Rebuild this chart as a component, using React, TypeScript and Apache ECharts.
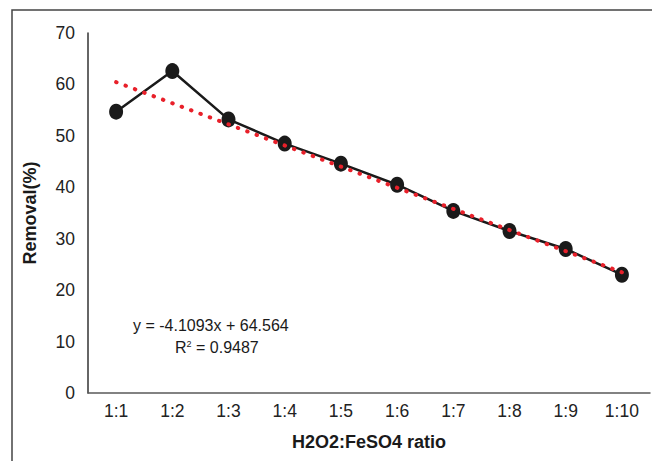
import React, { useEffect, useRef } from "react";
import * as echarts from "echarts";

const categories = ["1:1", "1:2", "1:3", "1:4", "1:5", "1:6", "1:7", "1:8", "1:9", "1:10"];
const removal = [54.7, 62.6, 53.2, 48.5, 44.6, 40.5, 35.4, 31.5, 28.0, 23.0];
const trend = [60.45, 56.35, 52.24, 48.13, 44.02, 39.91, 35.8, 31.69, 27.58, 23.47];
const yTicks = { min: 0, max: 70, interval: 10 };
const equationText = "y = -4.1093x + 64.564";
const r2Text = "0.9487";

const FONT = "'Liberation Sans', Arial, sans-serif";

export default function App() {
  const ref = useRef<HTMLDivElement>(null);
  useEffect(() => {
    if (!ref.current) return;
    const chart = echarts.init(ref.current, null, { renderer: "svg" });
    chart.setOption({
      animation: false,
      backgroundColor: "#ffffff",
      grid: { left: 88, right: 2, top: 33, bottom: 68 },
      xAxis: {
        type: "category",
        data: categories,
        boundaryGap: true,
        name: "H2O2:FeSO4 ratio",
        nameLocation: "middle",
        nameGap: 40,
        nameTextStyle: { fontFamily: FONT, fontSize: 18, fontWeight: "bold", color: "#1a1a1a" },
        axisLine: { show: true, lineStyle: { color: "#5a5a5a", width: 1.5 } },
        axisTick: { show: false },
        axisLabel: { fontFamily: FONT, fontSize: 17.5, color: "#222", margin: 9 },
        splitLine: { show: false },
      },
      yAxis: {
        type: "value",
        min: yTicks.min,
        max: yTicks.max,
        interval: yTicks.interval,
        name: "Removal(%)",
        nameLocation: "middle",
        nameGap: 49,
        nameRotate: 90,
        nameTextStyle: { fontFamily: FONT, fontSize: 18, fontWeight: "bold", color: "#1a1a1a" },
        axisLine: { show: true, lineStyle: { color: "#333", width: 1.5 } },
        axisTick: { show: false },
        axisLabel: { fontFamily: FONT, fontSize: 17.5, color: "#222", margin: 13 },
        splitLine: { show: false },
      },
      series: [
        {
          type: "line",
          data: removal,
          symbol: "circle",
          symbolSize: [14, 16],
          itemStyle: { color: "#1a1a1a" },
          lineStyle: { color: "#1a1a1a", width: 2.5 },
          z: 2,
        },
        {
          type: "line",
          data: trend,
          symbol: "none",
          lineStyle: { color: "#e8202a", width: 4, type: [0.5, 9.5], cap: "round" },
          z: 3,
        },
      ],
      graphic: [
        {
          type: "rect",
          shape: { x: 12, y: 10, width: 700, height: 520 },
          style: { fill: "none", stroke: "#444", lineWidth: 1.5 },
          silent: true,
        },
        {
          type: "text",
          left: 133,
          top: 317,
          style: { text: equationText, font: `16px ${FONT}`, fill: "#1a1a1a" },
        },
        {
          type: "text",
          left: 175,
          top: 339,
          style: {
            text: "{b|R}{s|2}{b| = " + r2Text + "}",
            rich: {
              b: { fontFamily: FONT, fontSize: 16, fill: "#1a1a1a", color: "#1a1a1a" },
              s: { fontFamily: FONT, fontSize: 9, fill: "#1a1a1a", color: "#1a1a1a", verticalAlign: "top", padding: [0, 0, 7, 0] },
            },
          },
        },
      ],
    });
    return () => chart.dispose();
  }, []);
  return <div ref={ref} style={{ position: "fixed", left: 0, top: 0, width: 652, height: 461 }} />;
}
